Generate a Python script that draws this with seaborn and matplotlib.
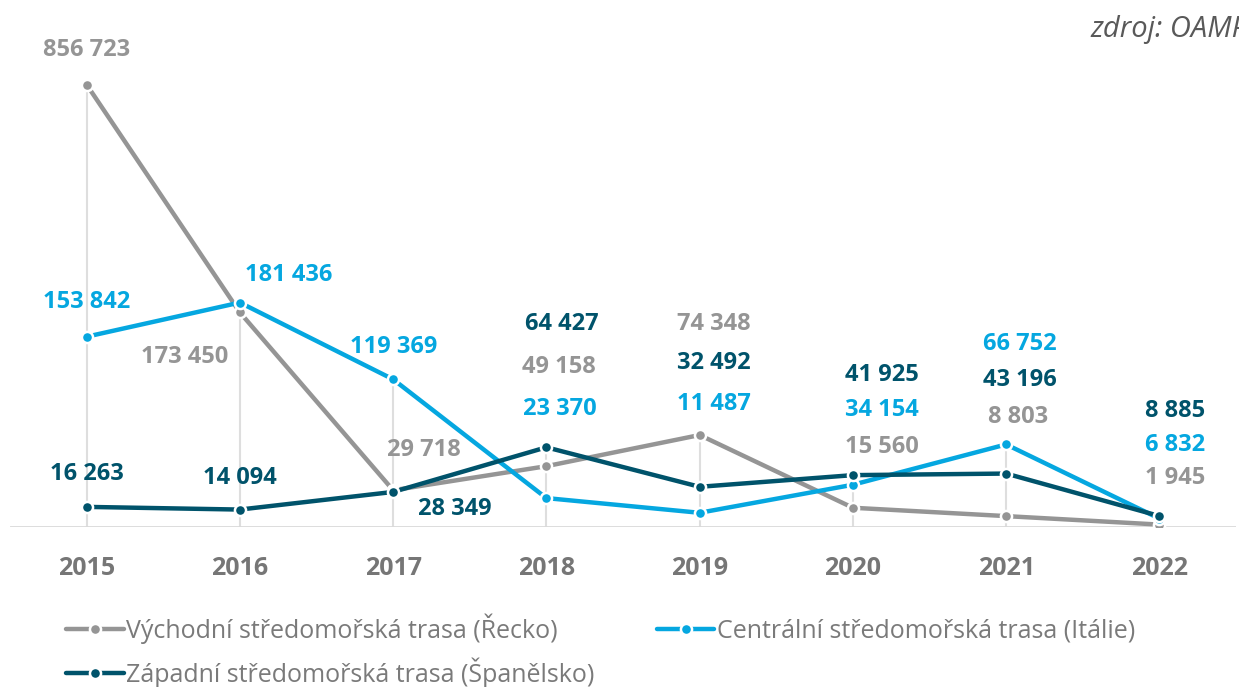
import numpy as np
import pandas as pd
import seaborn as sns
import matplotlib
matplotlib.use('Agg')
import matplotlib.pyplot as plt

# data
years = [2015, 2016, 2017, 2018, 2019, 2020, 2021, 2022]
east = [856723, 173450, 29718, 49158, 74348, 15560, 8803, 1945]
central = [153842, 181436, 119369, 23370, 11487, 34154, 66752, 6832]
west = [16263, 14094, 28349, 64427, 32492, 41925, 43196, 8885]
names = ['Východní středomořská trasa (Řecko)',
         'Centrální středomořská trasa (Itálie)',
         'Západní středomořská trasa (Španělsko)']
colors = ['#959595', '#05a7e0', '#00536b']

# label offsets in pixels (dx, dy) from each point
off_east = [(0, 35), (-55, -45), (31, 40), (13, 99), (14, 111), (29, 61), (12, 99), (16, 47)]
off_central = [(0, 35), (49, 28), (1, 32), (13, 89), (14, 109), (29, 75), (14, 100), (16, 74)]
off_west = [(0, 33), (0, 32), (62, -17), (15, 123), (14, 124), (29, 100), (14, 94), (16, 105)]

df = pd.concat([
    pd.DataFrame({'rok': years, 'pocet': east, 'trasa': names[0]}),
    pd.DataFrame({'rok': years, 'pocet': central, 'trasa': names[1]}),
    pd.DataFrame({'rok': years, 'pocet': west, 'trasa': names[2]}),
])

# compressed axis above 200k so the 2015 peak fits
BRK, K = 200000, 0.24
def fwd(v):
    v = np.asarray(v, dtype=float)
    return np.where(v <= BRK, v, BRK + (v - BRK) * K)
def inv(d):
    d = np.asarray(d, dtype=float)
    return np.where(d <= BRK, d, BRK + (d - BRK) / K)

sns.set_theme(style='white')
plt.rcParams['font.family'] = ['Open Sans', 'DejaVu Sans']

fig = plt.figure(figsize=(12.39, 6.87), dpi=100)
ax = fig.add_axes([10 / 1239, 1 - 527 / 687, 1226 / 1239, 507 / 687])

# drop lines from highest point of each year
tops = [max(a, b, c) for a, b, c in zip(east, central, west)]
ax.vlines(years, 0, tops, color='#dedede', lw=1.5, zorder=1)
ax.axhline(0, color='#d9d9d9', lw=2, zorder=1)

sns.lineplot(data=df, x='rok', y='pocet', hue='trasa', palette=colors,
             hue_order=names, marker='o', markersize=8, mec='white', mew=1.8,
             lw=3.2, ax=ax, zorder=3, legend=True)

ax.set_yscale('function', functions=(fwd, inv))
ax.set_ylim(0, float(inv(507 * 808.4)))
ax.set_xlim(2014.5, 2022.5)

def fmt(v):
    return f'{v:,}'.replace(',', ' ')

for vals, offs, col in [(east, off_east, colors[0]), (central, off_central, colors[1]),
                        (west, off_west, colors[2])]:
    for x, v, (dx, dy) in zip(years, vals, offs):
        ax.annotate(fmt(v), xy=(x, v), xytext=(dx, dy), textcoords='offset pixels',
                    ha='center', va='center', fontsize=17, fontweight='bold', color=col)

ax.set_xticks(years)
ax.set_xticklabels([str(y) for y in years], fontsize=18, fontweight='bold', color='#767676')
ax.tick_params(axis='x', length=0, pad=21)
ax.set_yticks([])
ax.set_xlabel('')
ax.set_ylabel('')
for s in ax.spines.values():
    s.set_visible(False)

handles, labels = ax.get_legend_handles_labels()
ax.legend_.remove()
# column-major fill: east & west in first column, central in second
order = [0, 2, 1]
fig.legend([handles[i] for i in order], [labels[i] for i in order], loc='upper left',
           bbox_to_anchor=(66 / 1239, 1 - 613 / 687), ncol=2, frameon=False,
           fontsize=18, labelcolor='#7a7a7a', handlelength=2.3, handletextpad=0.1,
           columnspacing=2.5, labelspacing=0.56, borderaxespad=0, borderpad=0)

# source note, cut by the right edge as in the original
fig.text(1090 / 1239, 1 - 30 / 687, 'zdroj: OAMP', fontsize=21, style='italic',
         color='#595959', ha='left', va='center')

fig.savefig('out.png', dpi=100)
